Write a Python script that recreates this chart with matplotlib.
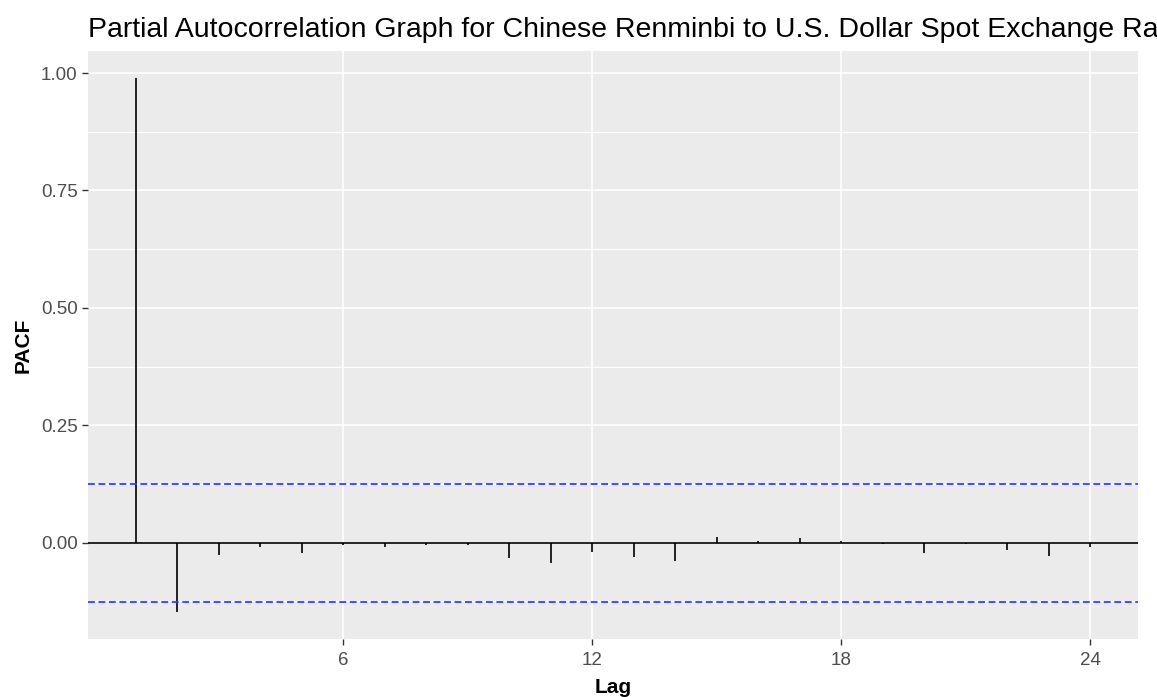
import matplotlib.pyplot as plt
from matplotlib.ticker import MultipleLocator, FixedLocator

plt.rcParams['font.family'] = ['Liberation Sans', 'DejaVu Sans']

title = 'Partial Autocorrelation Graph for Chinese Renminbi to U.S. Dollar Spot Exchange Rate'

# values
lags = list(range(1, 25))
pacf = [0.990, -0.147, -0.027, -0.010, -0.022, -0.005, -0.010, -0.005,
        -0.005, -0.033, -0.044, -0.019, -0.030, -0.038, 0.013, 0.004,
        0.010, 0.004, -0.002, -0.022, -0.002, -0.016, -0.028, -0.010]
ci = 0.126

x_ticks = [6, 12, 18, 24]
y_ticks = [0.0, 0.25, 0.5, 0.75, 1.0]

fig = plt.figure(figsize=(11.57, 6.97), dpi=100)
ax = fig.add_axes([88 / 1157, 58 / 697, 1050 / 1157, 588 / 697])
ax.set_facecolor('#EBEBEB')

ax.set_xlim(-0.15, 25.15)
ax.set_ylim(-0.205, 1.047)

ax.xaxis.set_major_locator(FixedLocator(x_ticks))
ax.yaxis.set_major_locator(FixedLocator(y_ticks))
ax.yaxis.set_minor_locator(MultipleLocator(0.125))
ax.grid(which='major', color='white', linewidth=1.2)
ax.grid(which='minor', axis='y', color='white', linewidth=0.8)
ax.set_axisbelow(True)

ax.vlines(lags, 0, pacf, color='black', linewidth=1.2)
ax.axhline(0, color='black', linewidth=1.2)
dash = (0, (3.8, 2.0))
ax.axhline(ci, color='#3c3cff', linestyle=dash, linewidth=1.3)
ax.axhline(-ci, color='#3c3cff', linestyle=dash, linewidth=1.3)

ax.set_yticklabels(['%.2f' % v for v in y_ticks])
ax.set_xticklabels([str(v) for v in x_ticks])
ax.tick_params(which='major', length=4.5, width=1, color='#333333',
               labelcolor='#4D4D4D', labelsize=13.5)
ax.tick_params(axis='x', pad=5)
ax.tick_params(axis='y', pad=3)
ax.tick_params(which='minor', length=0)
for s in ax.spines.values():
    s.set_visible(False)

ax.set_xlabel('Lag', fontsize=15, fontweight='bold', labelpad=6)
ax.set_ylabel('PACF', fontsize=15, fontweight='bold', labelpad=6)
# the reference title runs past the right edge, so it is cut off there too
fig.text(88 / 1157, 1 - 37 / 697, title, fontsize=20.5, ha='left', va='baseline')

fig.savefig('out.png', dpi=100)
